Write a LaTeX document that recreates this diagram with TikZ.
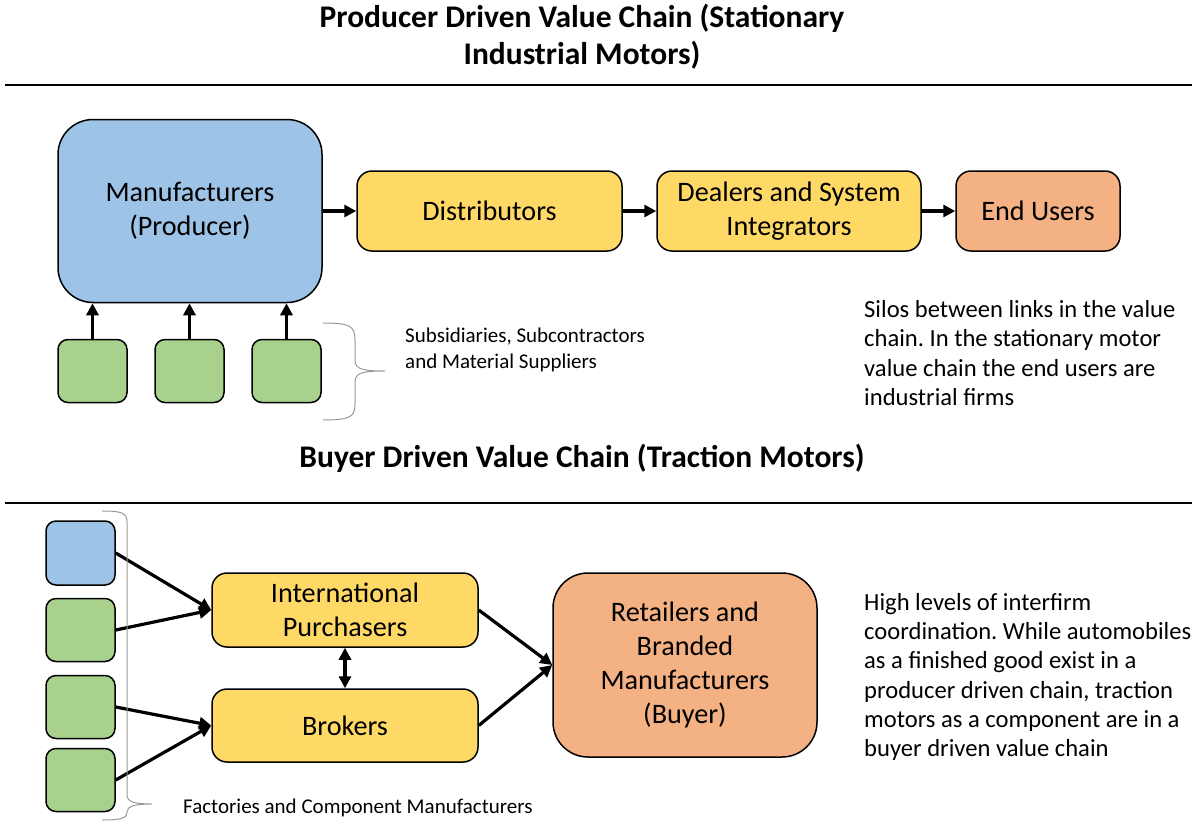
\documentclass[tikz,border=0pt]{standalone}
\usepackage{fontspec}
\setmainfont{Carlito}
\frenchspacing
\usetikzlibrary{arrows.meta}

\definecolor{boxblue}{HTML}{9DC3E6}
\definecolor{boxyellow}{HTML}{FFD966}
\definecolor{boxorange}{HTML}{F4B183}
\definecolor{boxgreen}{HTML}{A9D18E}

\tikzset{
  chainbox/.style={draw, line width=1.5pt, rounded corners=15pt, inner sep=0pt,
    align=center, font=\fontsize{28.2}{34}\selectfont},
  bigbox/.style={chainbox, rounded corners=35pt, minimum width=264pt, minimum height=183pt},
  smallbox/.style={draw, line width=1.5pt, rounded corners=10pt, fill=boxgreen,
    minimum width=69pt, minimum height=63pt, inner sep=0pt},
  flow/.style={line width=3.2pt, -{Triangle[length=12pt,width=12pt]}},
  twoway/.style={line width=3.2pt, {Triangle[length=12pt,width=12pt]}-{Triangle[length=12pt,width=12pt]}},
  bracket/.style={draw=gray!80, line width=1pt},
  note/.style={align=left, anchor=west, inner sep=0pt},
  heading/.style={align=center, font=\fontsize{31.5}{37}\selectfont\bfseries}
}

\begin{document}
\begin{tikzpicture}[x=1pt, y=-1pt]
\useasboundingbox (0,0) rectangle (1200,823);
% Titulos y lineas
\node[heading] (t1) at (582,37) {Producer Driven Value Chain (Stationary\\Industrial Motors)};
\draw[line width=1.2pt] (5,85) -- (1192,85);
\node[heading] (t2) at (582,458) {Buyer Driven Value Chain (Traction Motors)};
\draw[line width=1.2pt] (5,503) -- (1192,503);

% Cadena del productor
\node[bigbox, fill=boxblue] (man) at (190,211) {Manufacturers\\(Producer)};
\node[chainbox, fill=boxyellow, minimum width=265pt, minimum height=80pt] (dist) at (489.5,211) {Distributors};
\node[chainbox, fill=boxyellow, minimum width=264pt, minimum height=80pt] (deal) at (789,211) {Dealers and System\\Integrators};
\node[chainbox, fill=boxorange, minimum width=164pt, minimum height=80pt] (endu) at (1038,211) {End Users};
\draw[flow] (man) -- (dist);
\draw[flow] (dist) -- (deal);
\draw[flow] (deal) -- (endu);
% Proveedores
\foreach \i/\x in {1/92.5, 2/189.5, 3/286.5} {
  \node[smallbox] (sup\i) at (\x,371) {};
  \draw[flow] (sup\i.north) -- (sup\i.north |- man.south);
}
% Llave de los proveedores
\draw[bracket] (323,323) .. controls (350,323) and (355,326) .. (355,340) -- (355,360)
  .. controls (355,369) and (362,371) .. (385,371)
  .. controls (362,371) and (355,373) .. (355,382) -- (355,404)
  .. controls (355,417) and (350,420) .. (323,420);
\node[note, font=\fontsize{21}{26}\selectfont] (suplabel) at (405,350) {Subsidiaries, Subcontractors\\and Material Suppliers};
\node[note, font=\fontsize{24.6}{29.3}\selectfont] (silos) at (864,353) {Silos between links in the value\\chain. In the stationary motor\\value chain the end users are\\industrial firms};

% Cadena del comprador
\node[smallbox, fill=boxblue, minimum height=64pt] (fac1) at (80.5,553) {};
\node[smallbox] (fac2) at (80.5,630) {};
\node[smallbox] (fac3) at (80.5,707) {};
\node[smallbox] (fac4) at (80.5,780) {};
\node[chainbox, fill=boxyellow, minimum width=266pt, minimum height=74pt] (intp) at (345,610) {International\\Purchasers};
\node[chainbox, fill=boxyellow, minimum width=266pt, minimum height=73pt] (brok) at (345,725.5) {Brokers};
\node[bigbox, fill=boxorange, minimum height=184pt] (ret) at (685,665) {Retailers and\\Branded\\Manufacturers\\(Buyer)};
\draw[flow] (fac1.east) -- (intp.west);
\draw[flow] (fac2.east) -- (intp.west);
\draw[flow] (fac3.east) -- (brok.west);
\draw[flow] (fac4.east) -- (brok.west);
\draw[flow] (intp.east) -- (ret.west);
\draw[flow] (brok.east) -- (ret.west);
\draw[twoway] (intp.south) -- (brok.north);
% Llave de las fabricas
\draw[bracket] (102,511) .. controls (122,511) and (127,513) .. (127,522) -- (127,795)
  .. controls (127,802) and (135,804) .. (152,804)
  .. controls (135,804) and (127,806) .. (127,812)
  .. controls (127,818) and (122,820) .. (102,820);
\node[note, font=\fontsize{21}{26}\selectfont] (faclabel) at (183,808) {Factories and Component Manufacturers};
\node[note, font=\fontsize{24.6}{29.3}\selectfont] (coord) at (864,677) {High levels of interfirm\\coordination. While automobiles\\as a finished good exist in a\\producer driven chain, traction\\motors as a component are in a\\buyer driven value chain};
\end{tikzpicture}
\end{document}
